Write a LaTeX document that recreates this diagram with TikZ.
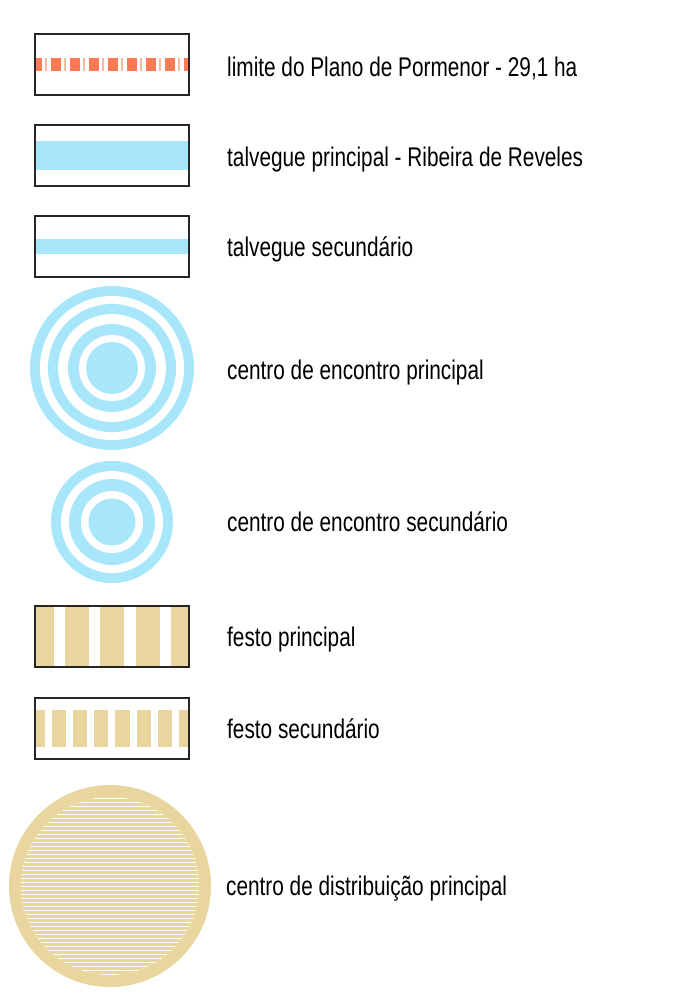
\documentclass[tikz,border=0pt]{standalone}
\usepackage{fontspec}
\setmainfont{Liberation Sans}[FakeStretch=0.77]
\definecolor{lblue}{RGB}{168,230,252}
\definecolor{tanc}{RGB}{233,213,158}
\definecolor{coralc}{RGB}{255,122,84}
\begin{document}
\begin{tikzpicture}[x=1pt,y=-1pt,
  frame/.style={draw=black!85,line width=1.1pt},
  lbl/.style={anchor=base west,inner sep=0pt,font=\fontsize{27}{31}\selectfont}]
\useasboundingbox (0,0) rectangle (677,994);

% 1 limite
\begin{scope}
  \clip (35,34) rectangle (189,95);
  \foreach \i in {0,...,8} {
    \fill[coralc] ({31.7+19*\i},57.5) rectangle ++(10,13);
    \fill[coralc!55] ({45.2+19*\i},57.5) rectangle ++(2,13);
  }
\end{scope}
\draw[frame] (35,34) rectangle (189,95);
\node[lbl] (t1) at (227,76) {limite do Plano de Pormenor - 29,1 ha};

% 2 talvegue principal
\fill[lblue] (35,141) rectangle (189,170);
\draw[frame] (35,125) rectangle (189,186);
\node[lbl] (t2) at (227,166) {talvegue principal - Ribeira de Reveles};

% 3 talvegue secundario
\fill[lblue] (35,239) rectangle (189,254);
\draw[frame] (35,216) rectangle (189,277);
\node[lbl] (t3) at (227,256) {talvegue secundário};

% 4 centro de encontro principal
\fill[lblue] (112,368) circle[radius=82pt];
\fill[white] (112,368) circle[radius=72pt];
\fill[lblue] (112,368) circle[radius=64pt];
\fill[white] (112,368) circle[radius=54pt];
\fill[lblue] (112,368) circle[radius=44pt];
\fill[white] (112,368) circle[radius=33pt];
\fill[lblue] (112,368) circle[radius=26pt];
\node[lbl] (t4) at (227,379) {centro de encontro principal};

% 5 centro de encontro secundario
\fill[lblue] (112,522) circle[radius=61pt];
\fill[white] (112,522) circle[radius=51pt];
\fill[lblue] (112,522) circle[radius=43pt];
\fill[white] (112,522) circle[radius=31pt];
\fill[lblue] (112,522) circle[radius=23.5pt];
\node[lbl] (t5) at (227,531) {centro de encontro secundário};

% 6 festo principal
\begin{scope}
  \clip (35,606) rectangle (189,667);
  \foreach \i in {0,...,5} {
    \fill[tanc] ({29.7+35.33*\i},606) rectangle ++(24,61);
  }
\end{scope}
\draw[frame] (35,606) rectangle (189,667);
\node[lbl] (t6) at (227,646) {festo principal};

% 7 festo secundario
\begin{scope}
  \clip (35,698) rectangle (189,759);
  \foreach \i in {0,...,8} {
    \fill[tanc] ({30.4+21.27*\i},710) rectangle ++(14.2,37.3);
  }
\end{scope}
\draw[frame] (35,698) rectangle (189,759);
\node[lbl] (t7) at (227,738) {festo secundário};

% 8 centro de distribuicao principal
\fill[tanc] (110,886) circle[radius=101pt];
\fill[white] (110,886) circle[radius=89pt];
\begin{scope}
  \clip (110,886) circle[radius=89pt];
  \foreach \k in {0,...,45} {
    \fill[tanc] (15,{795+4*\k}) rectangle (205,{797.6+4*\k});
  }
\end{scope}
\node[lbl] (t8) at (226,895) {centro de distribuição principal};
\end{tikzpicture}
\end{document}
